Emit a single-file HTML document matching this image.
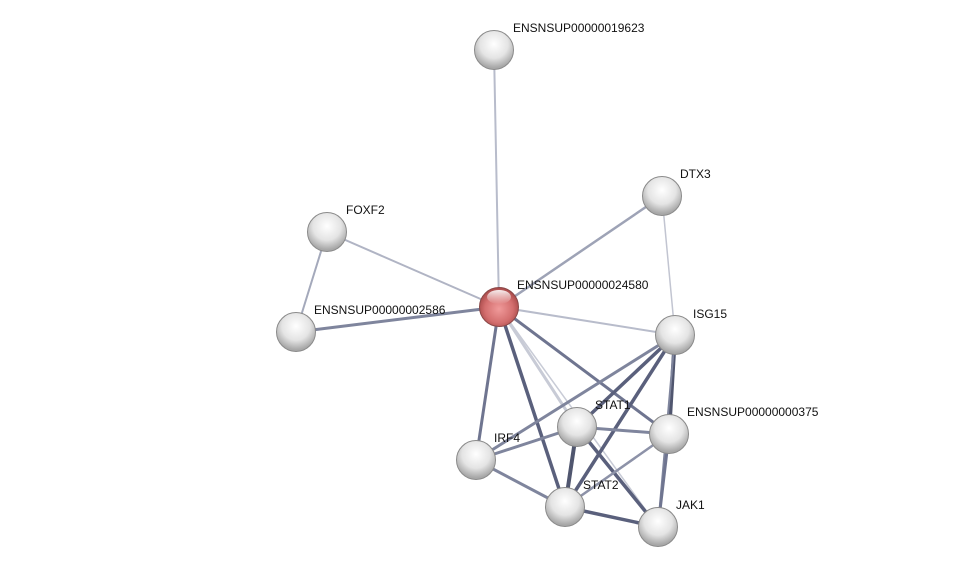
<!DOCTYPE html>
<html><head><meta charset="utf-8"><style>
html,body{margin:0;padding:0;background:#fff}
text{font-family:"Liberation Sans",sans-serif;font-size:12px;fill:#111}
</style></head><body>
<svg width="975" height="572" viewBox="0 0 975 572" xmlns="http://www.w3.org/2000/svg">
<defs>
<radialGradient id="g" cx="0.5" cy="0.35" r="0.6">
<stop offset="0" stop-color="#ffffff"/><stop offset="0.6" stop-color="#e4e4e4"/><stop offset="1" stop-color="#a8a8a8"/>
</radialGradient>
<radialGradient id="r" cx="0.5" cy="0.55" r="0.6">
<stop offset="0" stop-color="#f09a9a"/><stop offset="0.6" stop-color="#d36e6e"/><stop offset="1" stop-color="#9a3d3d"/>
</radialGradient>
<linearGradient id="hl" x1="0" y1="0" x2="0" y2="1">
<stop offset="0" stop-color="#fff" stop-opacity="0.9"/><stop offset="1" stop-color="#fff" stop-opacity="0"/>
</linearGradient>
</defs>
<g stroke-linecap="round">
<line x1="494" y1="50" x2="499" y2="307" stroke="#b8bccb" stroke-width="2"/>
<line x1="662" y1="196" x2="499" y2="307" stroke="#9ea3b6" stroke-width="2.5"/>
<line x1="662" y1="196" x2="675" y2="335" stroke="#c2c5d1" stroke-width="1.5"/>
<line x1="327" y1="232" x2="499" y2="307" stroke="#b0b4c4" stroke-width="2"/>
<line x1="327" y1="232" x2="296" y2="332" stroke="#a4a9bb" stroke-width="2"/>
<line x1="296" y1="332" x2="499" y2="307" stroke="#7f859d" stroke-width="3"/>
<line x1="499" y1="307" x2="675" y2="335" stroke="#b8bccb" stroke-width="2"/>
<line x1="499" y1="307" x2="476" y2="460" stroke="#6f7590" stroke-width="3"/>
<line x1="499" y1="307" x2="565" y2="507" stroke="#5a607c" stroke-width="3.5"/>
<line x1="499" y1="307" x2="577" y2="427" stroke="#c8cbd6" stroke-width="3"/>
<line x1="499" y1="307" x2="658" y2="527" stroke="#c8cbd6" stroke-width="1.5"/>
<line x1="499" y1="307" x2="669" y2="434" stroke="#6f7590" stroke-width="3"/>
<line x1="675" y1="335" x2="476" y2="460" stroke="#7f859d" stroke-width="3"/>
<line x1="675" y1="335" x2="577" y2="427" stroke="#5a607c" stroke-width="3.5"/>
<line x1="675" y1="335" x2="565" y2="507" stroke="#5a607c" stroke-width="3.5"/>
<line x1="675" y1="335" x2="669" y2="434" stroke="#50566f" stroke-width="4"/>
<line x1="675" y1="335" x2="658" y2="527" stroke="#7f859d" stroke-width="2"/>
<line x1="577" y1="427" x2="476" y2="460" stroke="#7f859d" stroke-width="3"/>
<line x1="577" y1="427" x2="565" y2="507" stroke="#50566f" stroke-width="4"/>
<line x1="577" y1="427" x2="669" y2="434" stroke="#7f859d" stroke-width="3"/>
<line x1="577" y1="427" x2="658" y2="527" stroke="#5a607c" stroke-width="3.5"/>
<line x1="476" y1="460" x2="565" y2="507" stroke="#7f859d" stroke-width="3"/>
<line x1="565" y1="507" x2="658" y2="527" stroke="#5a607c" stroke-width="3.5"/>
<line x1="565" y1="507" x2="669" y2="434" stroke="#8d92a8" stroke-width="2.5"/>
<line x1="669" y1="434" x2="658" y2="527" stroke="#6f7590" stroke-width="3"/>
</g>
<g stroke="#8a8a8a" stroke-width="1">
<circle cx="494" cy="50" r="19.5" fill="url(#g)"/>
<circle cx="662" cy="196" r="19.5" fill="url(#g)"/>
<circle cx="327" cy="232" r="19.5" fill="url(#g)"/>
<circle cx="296" cy="332" r="19.5" fill="url(#g)"/>
<circle cx="675" cy="335" r="19.5" fill="url(#g)"/>
<circle cx="577" cy="427" r="19.5" fill="url(#g)"/>
<circle cx="669" cy="434" r="19.5" fill="url(#g)"/>
<circle cx="476" cy="460" r="19.5" fill="url(#g)"/>
<circle cx="565" cy="507" r="19.5" fill="url(#g)"/>
<circle cx="658" cy="527" r="19.5" fill="url(#g)"/>
<circle cx="499" cy="307" r="19.5" fill="url(#r)" stroke="#8a4848"/>
</g>
<g fill="url(#hl)">
<ellipse cx="499" cy="297" rx="12" ry="7"/>
</g>
<text x="513" y="32">ENSNSUP00000019623</text>
<text x="680" y="178">DTX3</text>
<text x="346" y="214">FOXF2</text>
<text x="517" y="289">ENSNSUP00000024580</text>
<text x="314" y="314">ENSNSUP00000002586</text>
<text x="693" y="318">ISG15</text>
<text x="595" y="409">STAT1</text>
<text x="687" y="416">ENSNSUP00000000375</text>
<text x="494" y="442">IRF4</text>
<text x="583" y="489">STAT2</text>
<text x="676" y="509">JAK1</text>
</svg>
</body></html>
